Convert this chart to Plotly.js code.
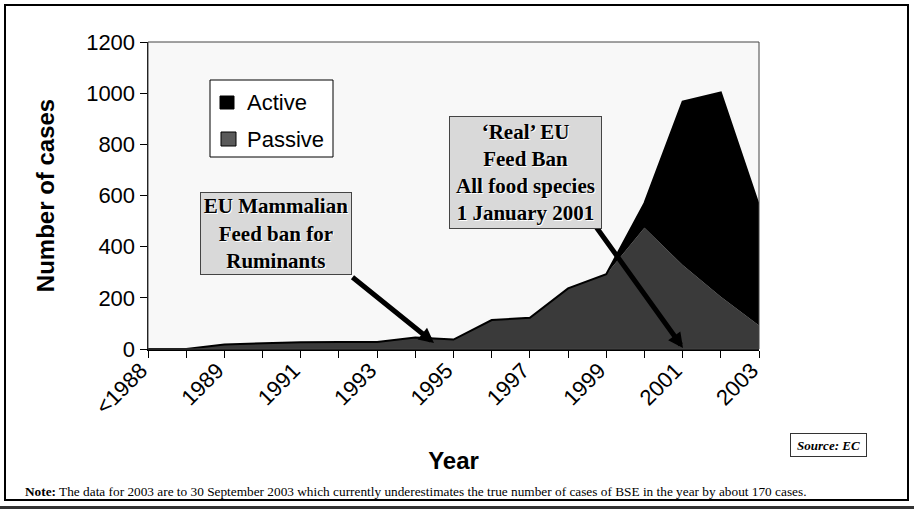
<!DOCTYPE html>
<html>
<head>
<meta charset="utf-8">
<script src="https://cdn.plot.ly/plotly-3.0.1.min.js"></script>
<style>html,body{margin:0;padding:0;background:#fff;}#chart{width:914px;height:509px;}</style>
</head>
<body>
<div id="chart"></div>
<script>
// ---- data ----
const years = ['<1988','1988','1989','1990','1991','1992','1993','1994','1995','1996','1997','1998','1999','2000','2001','2002','2003'];
const passive = [0, 0, 18, 22, 26, 27, 27, 45, 37, 113, 122, 237, 292, 474, 328, 204, 92];
const active  = [0, 0, 0, 0, 0, 0, 0, 0, 0, 0, 0, 0, 0, 96, 639, 799, 468];
const labelledYears = ['<1988','1989','1991','1993','1995','1997','1999','2001','2003'];
const seriesNames = ['Active', 'Passive'];

// ---- layout helpers (pixel -> paper) ----
const L = 148, R = 759, T = 42, B = 349;
const X = px => (px - L) / (R - L);
const Y = py => (B - py) / (B - T);

const serif = 'Liberation Serif, Times New Roman, serif';
const sans = 'Liberation Sans, Arial, sans-serif';

const traces = [
  {x: years, y: passive, name: seriesNames[1], type: 'scatter', mode: 'lines',
   stackgroup: 'one', fillcolor: '#3a3a3a', line: {color: '#3a3a3a', width: 0}, showlegend: false},
  {x: years, y: active, name: seriesNames[0], type: 'scatter', mode: 'lines',
   stackgroup: 'one', fillcolor: '#000000', line: {color: '#000000', width: 2}, showlegend: false}
];

const shapes = [
  // outer frame
  {type: 'rect', xref: 'paper', yref: 'paper', x0: X(5), x1: X(908), y0: Y(5), y1: Y(500), line: {color: '#000', width: 2}},
  // bottom rule
  {type: 'line', xref: 'paper', yref: 'paper', x0: X(0), x1: X(914), y0: Y(507.5), y1: Y(507.5), line: {color: '#333', width: 3}},
  // plot border (top/right)
  {type: 'rect', xref: 'paper', yref: 'paper', x0: 0, x1: 1, y0: 0, y1: 1, line: {color: '#444', width: 1}, layer: 'above'},
  // legend box
  {type: 'rect', xref: 'paper', yref: 'paper', x0: X(210), x1: X(333), y0: Y(80), y1: Y(157), fillcolor: '#fff', line: {color: '#000', width: 1}},
  {type: 'rect', xref: 'paper', yref: 'paper', x0: X(220), x1: X(234), y0: Y(96), y1: Y(109), fillcolor: '#000', line: {color: '#000', width: 1}},
  {type: 'rect', xref: 'paper', yref: 'paper', x0: X(221), x1: X(236), y0: Y(132), y1: Y(146), fillcolor: '#5a5a5a', line: {color: '#000', width: 1}}
];

const boxFont = {family: serif, size: 21, color: '#000', weight: 'bold', shadow: '1px 1px 0px #ffffff'};

const annotations = [
  // legend texts
  {xref: 'paper', yref: 'paper', x: X(245), y: Y(102), xanchor: 'left', yanchor: 'middle', showarrow: false,
   text: seriesNames[0], font: {family: sans, size: 22, color: '#000'}},
  {xref: 'paper', yref: 'paper', x: X(245), y: Y(139), xanchor: 'left', yanchor: 'middle', showarrow: false,
   text: seriesNames[1], font: {family: sans, size: 22, color: '#000'}},
  // arrows
  {xref: 'paper', yref: 'paper', x: X(434), y: Y(343), ax: -83, ay: -67, text: '', showarrow: true,
   arrowhead: 2, arrowsize: 0.6, arrowwidth: 5, arrowcolor: '#000', standoff: 0, startstandoff: 0},
  {xref: 'paper', yref: 'paper', x: X(683), y: Y(348), ax: -89, ay: -124, text: '', showarrow: true,
   arrowhead: 2, arrowsize: 0.6, arrowwidth: 5, arrowcolor: '#000', standoff: 0, startstandoff: 0},
  // text boxes
  {xref: 'paper', yref: 'paper', x: X(276), y: Y(233.5), xanchor: 'center', yanchor: 'middle', showarrow: false,
   text: '<b>EU Mammalian<br>Feed ban for<br>Ruminants</b>', font: boxFont, align: 'center',
   bgcolor: '#d9d9d9', bordercolor: '#444', borderwidth: 1, borderpad: 1, width: 148, height: 79},
  {xref: 'paper', yref: 'paper', x: X(525.5), y: Y(172.5), xanchor: 'center', yanchor: 'middle', showarrow: false,
   text: '<b>\u2018Real\u2019 EU<br>Feed Ban<br>All food species<br>1 January 2001</b>', font: boxFont, align: 'center',
   bgcolor: '#d9d9d9', bordercolor: '#444', borderwidth: 1, borderpad: 1, width: 149, height: 109},
  // source
  {xref: 'paper', yref: 'paper', x: X(828.5), y: Y(445), xanchor: 'center', yanchor: 'middle', showarrow: false,
   text: '<b><i>Source: EC</i></b>', font: {family: serif, size: 13, color: '#000'},
   bgcolor: '#fff', bordercolor: '#333', borderwidth: 1, borderpad: 1, width: 73, height: 20},
  // note
  {xref: 'paper', yref: 'paper', x: X(23), y: Y(491), xanchor: 'left', yanchor: 'middle', showarrow: false,
   text: '<b>Note:</b> The data for 2003 are to 30 September 2003 which currently underestimates the true number of cases of BSE in the year by about 170 cases.',
   font: {family: serif, size: 13.3, color: '#000'}}
];

const layout = {
  width: 914, height: 509,
  margin: {l: L, r: 914 - R, t: T, b: 509 - B, pad: 0},
  paper_bgcolor: '#ffffff', plot_bgcolor: '#f8f8f8',
  showlegend: false,
  xaxis: {
    type: 'category', range: [0, 16], showgrid: false, zeroline: false,
    showline: true, linecolor: '#000', linewidth: 2,
    ticks: 'outside', ticklen: 7, tickwidth: 1, tickcolor: '#000',
    tickmode: 'array', tickvals: years,
    ticktext: years.map(y => labelledYears.includes(y) ? y : ''),
    tickangle: -45, tickfont: {family: sans, size: 22, color: '#000'},
    ticklabelstandoff: -9, ticklabelshift: -7,
    title: {text: '<b>Year</b>', font: {family: sans, size: 24, color: '#000'}, standoff: 34},
    automargin: false
  },
  yaxis: {
    range: [0, 1200], dtick: 200, showgrid: false, zeroline: false,
    showline: true, linecolor: '#000', linewidth: 1.5,
    ticks: 'outside', ticklen: 7, tickwidth: 1, tickcolor: '#000',
    tickfont: {family: sans, size: 22, color: '#000'},
    title: {text: '<b>Number of cases</b>', font: {family: sans, size: 24, color: '#000'}, standoff: 24},
    automargin: false
  },
  shapes: shapes,
  annotations: annotations
};

Plotly.newPlot('chart', traces, layout, {displayModeBar: false, staticPlot: true});
</script>
</body>
</html>
